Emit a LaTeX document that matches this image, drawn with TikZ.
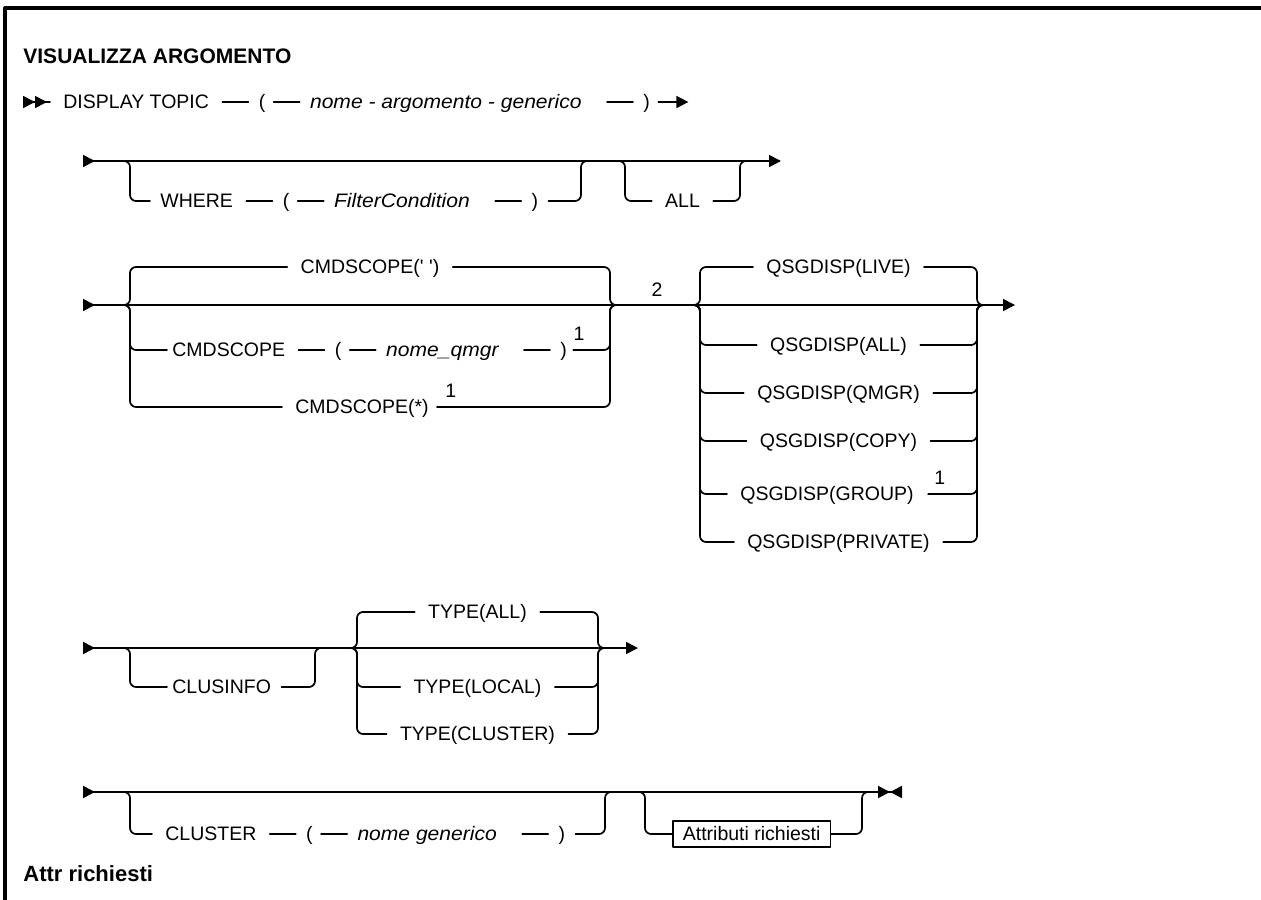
\documentclass[tikz,border=0pt]{standalone}
\usepackage{fontspec}
\setmainfont{Liberation Sans}[ItalicFeatures={FakeStretch=1.08}]
\usetikzlibrary{arrows.meta,positioning}

\tikzset{
  syn/.style={inner sep=0pt,text height=6.9pt,text depth=0pt,anchor=west,
    font=\fontsize{9.75}{12}\selectfont},
  var/.style={syn,font=\fontsize{9.75}{12}\selectfont\itshape},
  note/.style={inner sep=0pt,anchor=south west,font=\fontsize{9.75}{12}\selectfont},
  head/.style={inner sep=0pt,anchor=west,font=\fontsize{10.5}{13}\selectfont\bfseries},
  rail/.style={line width=0.85pt},
  tok/.style={rail,shorten <=6.5pt,shorten >=5pt},
  leadin/.style={rail,rounded corners=3pt,shorten >=5pt},
  leadout/.style={rail,rounded corners=3pt,shorten <=5pt},
  railstart/.style={rail,{Triangle[reversed,length=6pt,width=6pt]}-{Triangle[length=6pt,width=6pt]}}
}

\begin{document}
\begin{tikzpicture}[x=0.5pt,y=-0.5pt,line cap=round,line join=round]
  \useasboundingbox (0,0) rectangle (1261,899);
  \draw[line width=1.6pt] (5,910) -- (5,8) -- (1270,8);

  % title and command
  \node[head] (title) at (23,56) {VISUALIZZA ARGOMENTO};
  \coordinate (r1s) at (23,102);
  \node[syn] (disp) at (63,102) {DISPLAY TOPIC};
  \node[syn,right=24.5pt of disp] (lp1) {(};
  \node[var,right=22pt of lp1] (topic) {nome - argomento - generico};
  \node[syn,right=30.5pt of topic] (rp1) {)};
  \coordinate[right=19pt of rp1] (r1e);
  \draw[rail,{Triangle[reversed,length=6pt,width=6pt] Triangle[reversed,length=6pt,width=6pt]}-,shorten >=6.5pt] (r1s) -- (disp);
  \draw[tok] (disp) -- (lp1);
  \draw[tok,shorten <=4pt] (lp1) -- (topic);
  \draw[tok,shorten <=12.5pt] (topic) -- (rp1);
  \draw[rail,-{Triangle[length=6pt,width=6pt]},shorten <=4pt] (rp1) -- (r1e);

  % WHERE / ALL
  \coordinate (r2s) at (83,161);\coordinate (r2e) at (781,161);
  \coordinate (wl) at (130,161);\coordinate (wr) at (581,161);
  \coordinate (al) at (625,161);\coordinate (ar) at (740,161);
  \draw[railstart] (r2s) -- (r2e);
  \node[syn] (where) at (160,201) {WHERE};
  \node[syn,right=24.5pt of where] (lp2) {(};
  \node[var,right=22pt of lp2] (filt) {FilterCondition};
  \node[syn,right=30.5pt of filt] (rp2) {)};
  \draw[tok] (where) -- (lp2);
  \draw[tok,shorten <=4pt] (lp2) -- (filt);
  \draw[tok,shorten <=12.5pt] (filt) -- (rp2);
  \draw[leadin] ([xshift=-3pt]wl) -- (wl) |- (where);
  \draw[leadout] (rp2) -| (wr) -- ([xshift=3pt]wr);
  \node[syn,anchor=center] (all) at (682.5,201) {ALL};
  \draw[leadin,shorten >=6.5pt] ([xshift=-3pt]al) -- (al) |- (all);
  \draw[leadout,shorten <=6.5pt] (all) -| (ar) -- ([xshift=3pt]ar);

  % CMDSCOPE / QSGDISP
  \coordinate (r3s) at (83,305);\coordinate (r3e) at (1015,305);
  \coordinate (cl) at (130,305);\coordinate (cr) at (610,305);
  \coordinate (ql) at (700,305);\coordinate (qr) at (977,305);
  \draw[railstart] (r3s) -- (r3e);
  \node[syn,anchor=center] (cmdq) at (370,267) {CMDSCOPE(\textquotesingle\ \textquotesingle)};
  \draw[leadin,shorten >=6.5pt] ([xshift=-3pt]cl) -- (cl) |- (cmdq);
  \draw[leadout,shorten <=6.5pt] (cmdq) -| (cr) -- ([xshift=3pt]cr);
  \node[syn] (cmd) at (172,350) {CMDSCOPE};
  \node[syn,right=24.5pt of cmd] (lp3) {(};
  \node[var,right=22pt of lp3] (qmgr) {nome\_qmgr};
  \node[syn,right=30.5pt of qmgr] (rp3) {)};
  \node[note] (f1) at ([xshift=3pt,yshift=1pt]rp3.north east) {1};
  \draw[tok] (cmd) -- (lp3);
  \draw[tok,shorten <=4pt] (lp3) -- (qmgr);
  \draw[tok,shorten <=12.5pt] (qmgr) -- (rp3);
  \draw[leadin,shorten >=2.5pt] ([xshift=-3pt]cl) -- (cl) |- (cmd);
  \draw[leadout,shorten <=3pt] (rp3) -| (cr) -- ([xshift=3pt]cr);
  \node[syn] (cmdst) at (295,407) {CMDSCOPE(*)};
  \node[note] (f2) at ([xshift=8pt,yshift=1pt]cmdst.north east) {1};
  \draw[leadin,shorten >=6.5pt] ([xshift=-3pt]cl) -- (cl) |- (cmdst);
  \draw[leadout,shorten <=4pt] (cmdst) -| (cr) -- ([xshift=3pt]cr);
  \node[note,anchor=south] (n2) at (657,297) {2};
  \foreach \q/\y in {LIVE/267,ALL/345,QMGR/393,COPY/441,PRIVATE/542}{
    \node[syn,anchor=center] (q\q) at (838.5,\y) {QSGDISP(\q)};
    \draw[leadin,shorten >=6.5pt] ([xshift=-3pt]ql) -- (ql) |- (q\q);
    \draw[leadout,shorten <=6.5pt] (q\q) -| (qr) -- ([xshift=3pt]qr);
  }
  \node[syn,anchor=center] (qGROUP) at (827,494) {QSGDISP(GROUP)};
  \node[note] (f3) at ([xshift=10pt,yshift=1pt]qGROUP.north east) {1};
  \draw[leadin,shorten >=6.5pt] ([xshift=-3pt]ql) -- (ql) |- (qGROUP);
  \draw[leadout,shorten <=7pt] (qGROUP) -| (qr) -- ([xshift=3pt]qr);

  % CLUSINFO / TYPE
  \coordinate (r4s) at (83,648);\coordinate (r4e) at (638,648);
  \coordinate (il) at (130,648);\coordinate (ir) at (315,648);
  \coordinate (tl) at (357,648);\coordinate (tr) at (598,648);
  \draw[railstart] (r4s) -- (r4e);
  \node[syn] (clus) at (172,687) {CLUSINFO};
  \draw[leadin,shorten >=2.5pt] ([xshift=-3pt]il) -- (il) |- (clus);
  \draw[leadout] (clus) -| (ir) -- ([xshift=3pt]ir);
  \foreach \t/\y in {ALL/612,LOCAL/687,CLUSTER/734}{
    \node[syn,anchor=center] (t\t) at (477.5,\y) {TYPE(\t)};
    \draw[leadin,shorten >=6.5pt] ([xshift=-3pt]tl) -- (tl) |- (t\t);
    \draw[leadout,shorten <=6.5pt] (t\t) -| (tr) -- ([xshift=3pt]tr);
  }

  % CLUSTER / attributes
  \coordinate (r5s) at (83,792);\coordinate (r5e) at (902,792);
  \coordinate (kl) at (130,792);\coordinate (kr) at (605,792);
  \coordinate (bl) at (645,792);\coordinate (br) at (862,792);
  \draw[rail,{Triangle[reversed,length=6pt,width=6pt]}-{Triangle[length=6pt,width=6pt] Triangle[reversed,length=6pt,width=6pt]}] (r5s) -- (r5e);
  \node[syn] (clu) at (165,834) {CLUSTER};
  \node[syn,right=24.5pt of clu] (lp5) {(};
  \node[var,right=22pt of lp5] (gen) {nome generico};
  \node[syn,right=30.5pt of gen] (rp5) {)};
  \draw[tok] (clu) -- (lp5);
  \draw[tok,shorten <=4pt] (lp5) -- (gen);
  \draw[tok,shorten <=12.5pt] (gen) -- (rp5);
  \draw[leadin,shorten >=6.5pt] ([xshift=-3pt]kl) -- (kl) |- (clu);
  \draw[leadout] (rp5) -| (kr) -- ([xshift=3pt]kr);
  \node[syn,draw,line width=0.85pt,inner xsep=5pt,inner ysep=3pt] (attr) at (672,834) {Attributi richiesti};
  \draw[leadin,shorten >=0pt] ([xshift=-3pt]bl) -- (bl) |- (attr);
  \draw[leadout,shorten <=0pt] (attr) -| (br) -- ([xshift=3pt]br);

  \node[head,font=\fontsize{11}{13}\selectfont\bfseries] (attrh) at (23,874) {Attr richiesti};
\end{tikzpicture}
\end{document}
